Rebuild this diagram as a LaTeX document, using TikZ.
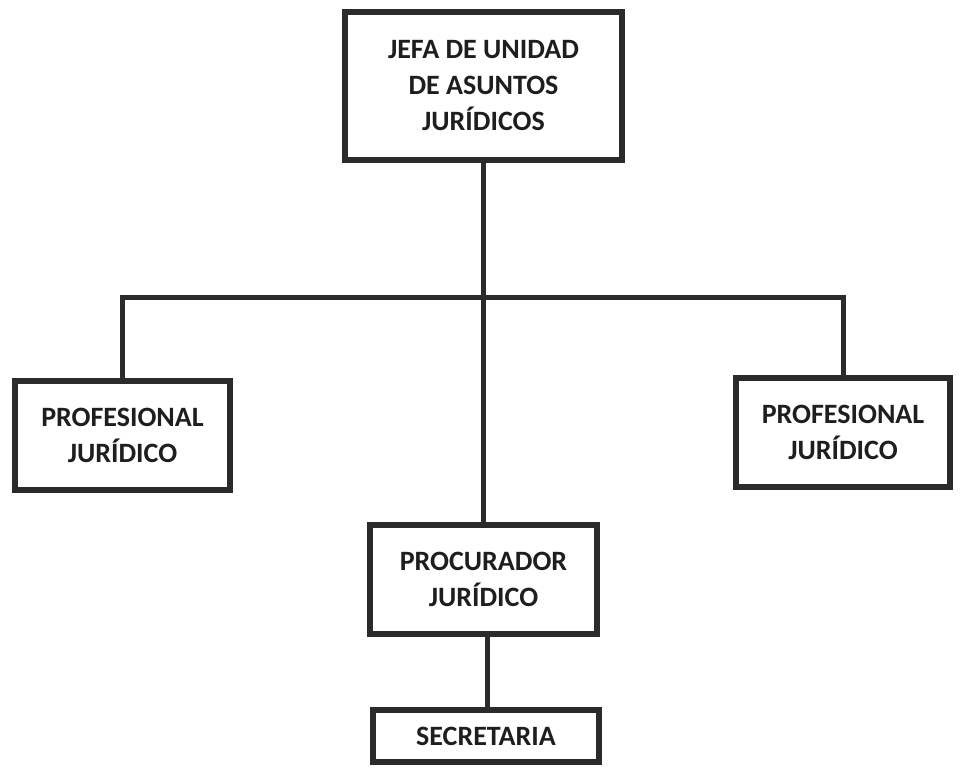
\documentclass[tikz,border=0pt]{standalone}
\usepackage{fontspec}
\setmainfont{Carlito}
\definecolor{ink}{HTML}{2B2B2B}
\definecolor{txt}{HTML}{1E1E1E}
\tikzset{
  orgbox/.style={draw=ink, line width=6pt, rectangle, inner sep=0pt, align=center,
    text=txt, font=\fontsize{28}{36}\selectfont\bfseries, fill=white},
  link/.style={draw=ink, line width=5pt}
}
\begin{document}
\begin{tikzpicture}[x=1pt,y=-1pt]
\useasboundingbox (0,0) rectangle (961,775);
\fill[white] (0,0) rectangle (961,775);
\node[orgbox, minimum width=277pt, minimum height=148pt] (jefa) at (483.5,86)
  {JEFA DE UNIDAD\\DE ASUNTOS\\JURÍDICOS};
\node[orgbox, minimum width=215pt, minimum height=109pt] (profl) at (122.5,435.5)
  {PROFESIONAL\\JURÍDICO};
\node[orgbox, minimum width=214pt, minimum height=109pt] (profr) at (843,432.5)
  {PROFESIONAL\\JURÍDICO};
\node[orgbox, minimum width=227pt, minimum height=109pt] (proc) at (483.5,579.5)
  {PROCURADOR\\JURÍDICO};
\node[orgbox, minimum width=226pt, minimum height=52pt] (secr) at (486,736)
  {SECRETARIA};
\coordinate (bus) at (484,298);
\draw[link] (jefa.south) -- (proc.north);
\draw[link] (profl.north) -- (profl.north |- bus) -- (profr.north |- bus) -- (profr.north);
\draw[link] ([xshift=4pt]proc.south) -- ([xshift=4pt]proc.south |- secr.north);
\end{tikzpicture}
\end{document}
